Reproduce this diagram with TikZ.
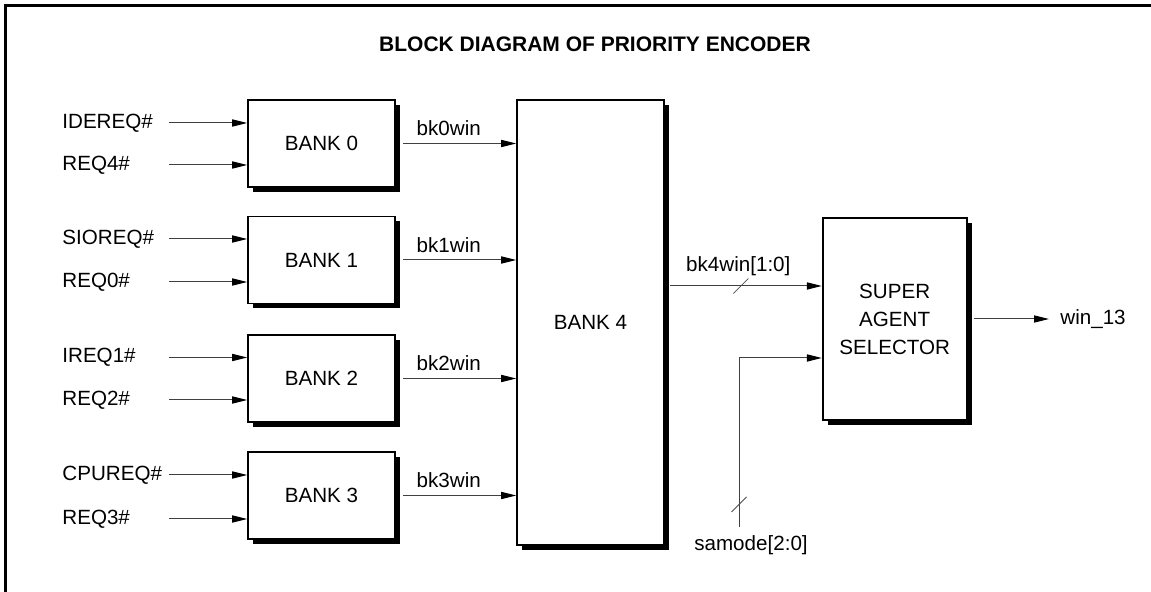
\documentclass[tikz,border=0pt]{standalone}
\usepackage{fontspec}
\setmainfont{Liberation Sans}
\usepackage{tikz}
\usetikzlibrary{arrows.meta,positioning,shadows}

\tikzset{
  bank/.style={draw, line width=0.9pt, fill=white, minimum width=73.5pt, minimum height=43.5pt,
    drop shadow={shadow xshift=2.5pt, shadow yshift=-2.5pt, fill=black, opacity=1}},
  sig/.style={line width=0.5pt, black!75, -{Triangle[length=7.5pt,width=3.6pt,color=black]}},
  lbl/.style={inner sep=2pt, text=black},
  inlbl/.style={anchor=west, inner sep=0pt, text width=53pt, align=left},
  busmark/.style={line width=0.4pt, black!70}
}

\begin{document}
\begin{tikzpicture}[x=5pt, y=-5pt, font=\fontsize{10.3}{14}\selectfont]
\useasboundingbox (0,0) rectangle (115.1,59.2);
% Frame (runs off the right and bottom)
\draw[line width=1.5pt] (0.5,59.2) -- (0.5,0.53) -- (115.1,0.53);

% Title
\node[font=\fontsize{10.5}{12}\selectfont\bfseries] (title) at (59.5,4.4) {BLOCK DIAGRAM OF PRIORITY ENCODER};

% Banks 0-3
\node[bank] (b0) at (32.15,14.35) {BANK 0};
\node[bank] (b1) at (32.15,26.0) {BANK 1};
\node[bank] (b2) at (32.15,37.85) {BANK 2};
\node[bank] (b3) at (32.15,49.55) {BANK 3};

% Bank 4 and selector
\node[bank, minimum height=222.5pt] (b4) at (59.05,32.25) {BANK 4};
\node[bank, minimum width=72pt, minimum height=101pt, align=center] (sas) at (89.47,31.9) {SUPER\\AGENT\\SELECTOR};

% Request inputs
\node[inlbl] (i0a) at (6.2,12.3) {IDEREQ\#};
\node[inlbl] (i0b) at (6.2,16.5) {REQ4\#};
\node[inlbl] (i1a) at (6.2,23.9) {SIOREQ\#};
\node[inlbl] (i1b) at (6.2,28.2) {REQ0\#};
\node[inlbl] (i2a) at (6.2,35.75) {IREQ1\#};
\node[inlbl] (i2b) at (6.2,40.0) {REQ2\#};
\node[inlbl] (i3a) at (6.2,47.5) {CPUREQ\#};
\node[inlbl] (i3b) at (6.2,51.9) {REQ3\#};

\draw[sig] (i0a.east) -- (i0a.east -| b0.west);
\draw[sig] (i0b.east) -- (i0b.east -| b0.west);
\draw[sig] (i1a.east) -- (i1a.east -| b1.west);
\draw[sig] (i1b.east) -- (i1b.east -| b1.west);
\draw[sig] (i2a.east) -- (i2a.east -| b2.west);
\draw[sig] (i2b.east) -- (i2b.east -| b2.west);
\draw[sig] (i3a.east) -- (i3a.east -| b3.west);
\draw[sig] (i3b.east) -- (i3b.east -| b3.west);

% Bank winners into bank 4
\draw[sig, shorten <=3.5pt] (b0.east) -- (b0.east -| b4.west) node[lbl, above=1.5pt, pos=0.44] {bk0win};
\draw[sig, shorten <=3.5pt] (b1.east) -- (b1.east -| b4.west) node[lbl, above=1.5pt, pos=0.44] {bk1win};
\draw[sig, shorten <=3.5pt] (b2.east) -- (b2.east -| b4.west) node[lbl, above=1.5pt, pos=0.44] {bk2win};
\draw[sig, shorten <=3.5pt] (b3.east) -- (b3.east -| b4.west) node[lbl, above=1.5pt, pos=0.44] {bk3win};

% Bus into the selector
\draw[sig, shorten <=2.5pt] ([yshift=16.5pt]sas.west -| b4.east) -- ([yshift=16.5pt]sas.west)
  coordinate[pos=0.484] (bk4m) node[lbl, above=3pt, pos=0.468] {bk4win[1:0]};
\draw[busmark] ([shift={(-0.75,0.75)}]bk4m) -- ([shift={(0.75,-0.75)}]bk4m);

% Mode input
\coordinate (smin) at (73.9,52.7);
\node[lbl] (sm) at (75.1,54.5) {samode[2:0]};
\draw[sig] (smin) |- ([yshift=-19.5pt]sas.west);
\draw[busmark] (73.15,51.2) -- (74.65,49.7);

% Output
\node[lbl, anchor=west] (w13) at (105.6,31.9) {win\_13};
\draw[sig, shorten <=3pt, shorten >=3.5pt] (sas.east) -- (sas.east -| w13.west);
\end{tikzpicture}
\end{document}
